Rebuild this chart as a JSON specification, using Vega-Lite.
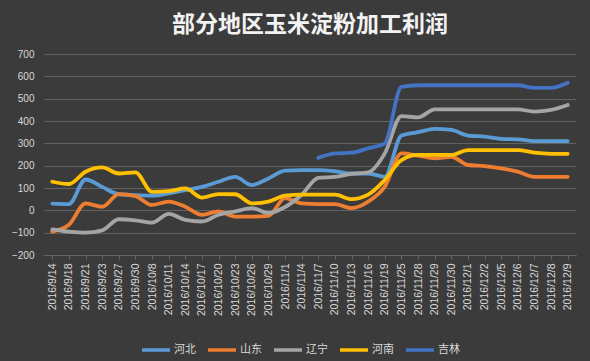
{
  "$schema": "https://vega.github.io/schema/vega-lite/v6.json",
  "autosize": "none",
  "width": 532,
  "height": 201,
  "padding": {"left": 44, "top": 54, "right": 14, "bottom": 106},
  "background": "#3b3b3b",
  "title": {
    "text": "部分地区玉米淀粉加工利润",
    "font": "Noto Sans CJK SC",
    "fontSize": 23,
    "fontWeight": "bold",
    "color": "#f2f2f2",
    "anchor": "middle",
    "offset": 12
  },
  "datasets": {
    "d": [
      {"date":"2016/9/14","s":"河北","v":30},{"date":"2016/9/18","s":"河北","v":28},{"date":"2016/9/21","s":"河北","v":138},{"date":"2016/9/23","s":"河北","v":105},{"date":"2016/9/27","s":"河北","v":72},{"date":"2016/9/30","s":"河北","v":68},{"date":"2016/10/8","s":"河北","v":66},{"date":"2016/10/11","s":"河北","v":76},{"date":"2016/10/14","s":"河北","v":90},{"date":"2016/10/17","s":"河北","v":105},{"date":"2016/10/20","s":"河北","v":128},{"date":"2016/10/23","s":"河北","v":150},{"date":"2016/10/26","s":"河北","v":113},{"date":"2016/10/29","s":"河北","v":143},{"date":"2016/11/1","s":"河北","v":178},{"date":"2016/11/4","s":"河北","v":180},{"date":"2016/11/7","s":"河北","v":180},{"date":"2016/11/10","s":"河北","v":175},{"date":"2016/11/13","s":"河北","v":165},{"date":"2016/11/16","s":"河北","v":165},{"date":"2016/11/19","s":"河北","v":150},{"date":"2016/11/25","s":"河北","v":335},{"date":"2016/11/28","s":"河北","v":350},{"date":"2016/11/29","s":"河北","v":365},{"date":"2016/11/30","s":"河北","v":360},{"date":"2016/12/1","s":"河北","v":335},{"date":"2016/12/2","s":"河北","v":330},{"date":"2016/12/5","s":"河北","v":320},{"date":"2016/12/6","s":"河北","v":318},{"date":"2016/12/7","s":"河北","v":310},{"date":"2016/12/8","s":"河北","v":310},{"date":"2016/12/9","s":"河北","v":310},
      {"date":"2016/9/14","s":"山东","v":-95},{"date":"2016/9/18","s":"山东","v":-65},{"date":"2016/9/21","s":"山东","v":31},{"date":"2016/9/23","s":"山东","v":16},{"date":"2016/9/27","s":"山东","v":73},{"date":"2016/9/30","s":"山东","v":64},{"date":"2016/10/8","s":"山东","v":24},{"date":"2016/10/11","s":"山东","v":39},{"date":"2016/10/14","s":"山东","v":16},{"date":"2016/10/17","s":"山东","v":-20},{"date":"2016/10/20","s":"山东","v":-5},{"date":"2016/10/23","s":"山东","v":-28},{"date":"2016/10/26","s":"山东","v":-28},{"date":"2016/10/29","s":"山东","v":-25},{"date":"2016/11/1","s":"山东","v":55},{"date":"2016/11/4","s":"山东","v":31},{"date":"2016/11/7","s":"山东","v":28},{"date":"2016/11/10","s":"山东","v":28},{"date":"2016/11/13","s":"山东","v":10},{"date":"2016/11/16","s":"山东","v":39},{"date":"2016/11/19","s":"山东","v":106},{"date":"2016/11/25","s":"山东","v":255},{"date":"2016/11/28","s":"山东","v":245},{"date":"2016/11/29","s":"山东","v":233},{"date":"2016/11/30","s":"山东","v":240},{"date":"2016/12/1","s":"山东","v":203},{"date":"2016/12/2","s":"山东","v":198},{"date":"2016/12/5","s":"山东","v":188},{"date":"2016/12/6","s":"山东","v":173},{"date":"2016/12/7","s":"山东","v":150},{"date":"2016/12/8","s":"山东","v":150},{"date":"2016/12/9","s":"山东","v":150},
      {"date":"2016/9/14","s":"辽宁","v":-85},{"date":"2016/9/18","s":"辽宁","v":-95},{"date":"2016/9/21","s":"辽宁","v":-100},{"date":"2016/9/23","s":"辽宁","v":-90},{"date":"2016/9/27","s":"辽宁","v":-40},{"date":"2016/9/30","s":"辽宁","v":-45},{"date":"2016/10/8","s":"辽宁","v":-55},{"date":"2016/10/11","s":"辽宁","v":-16},{"date":"2016/10/14","s":"辽宁","v":-43},{"date":"2016/10/17","s":"辽宁","v":-50},{"date":"2016/10/20","s":"辽宁","v":-20},{"date":"2016/10/23","s":"辽宁","v":-5},{"date":"2016/10/26","s":"辽宁","v":10},{"date":"2016/10/29","s":"辽宁","v":-12},{"date":"2016/11/1","s":"辽宁","v":15},{"date":"2016/11/4","s":"辽宁","v":70},{"date":"2016/11/7","s":"辽宁","v":145},{"date":"2016/11/10","s":"辽宁","v":150},{"date":"2016/11/13","s":"辽宁","v":163},{"date":"2016/11/16","s":"辽宁","v":170},{"date":"2016/11/19","s":"辽宁","v":255},{"date":"2016/11/25","s":"辽宁","v":422},{"date":"2016/11/28","s":"辽宁","v":416},{"date":"2016/11/29","s":"辽宁","v":452},{"date":"2016/11/30","s":"辽宁","v":452},{"date":"2016/12/1","s":"辽宁","v":452},{"date":"2016/12/2","s":"辽宁","v":452},{"date":"2016/12/5","s":"辽宁","v":452},{"date":"2016/12/6","s":"辽宁","v":452},{"date":"2016/12/7","s":"辽宁","v":442},{"date":"2016/12/8","s":"辽宁","v":450},{"date":"2016/12/9","s":"辽宁","v":472},
      {"date":"2016/9/14","s":"河南","v":128},{"date":"2016/9/18","s":"河南","v":118},{"date":"2016/9/21","s":"河南","v":173},{"date":"2016/9/23","s":"河南","v":192},{"date":"2016/9/27","s":"河南","v":165},{"date":"2016/9/30","s":"河南","v":170},{"date":"2016/10/8","s":"河南","v":83},{"date":"2016/10/11","s":"河南","v":86},{"date":"2016/10/14","s":"河南","v":98},{"date":"2016/10/17","s":"河南","v":57},{"date":"2016/10/20","s":"河南","v":73},{"date":"2016/10/23","s":"河南","v":72},{"date":"2016/10/26","s":"河南","v":31},{"date":"2016/10/29","s":"河南","v":39},{"date":"2016/11/1","s":"河南","v":66},{"date":"2016/11/4","s":"河南","v":70},{"date":"2016/11/7","s":"河南","v":70},{"date":"2016/11/10","s":"河南","v":70},{"date":"2016/11/13","s":"河南","v":50},{"date":"2016/11/16","s":"河南","v":70},{"date":"2016/11/19","s":"河南","v":136},{"date":"2016/11/25","s":"河南","v":225},{"date":"2016/11/28","s":"河南","v":248},{"date":"2016/11/29","s":"河南","v":248},{"date":"2016/11/30","s":"河南","v":248},{"date":"2016/12/1","s":"河南","v":270},{"date":"2016/12/2","s":"河南","v":270},{"date":"2016/12/5","s":"河南","v":270},{"date":"2016/12/6","s":"河南","v":270},{"date":"2016/12/7","s":"河南","v":258},{"date":"2016/12/8","s":"河南","v":253},{"date":"2016/12/9","s":"河南","v":253},
      {"date":"2016/11/7","s":"吉林","v":235},{"date":"2016/11/10","s":"吉林","v":255},{"date":"2016/11/13","s":"吉林","v":258},{"date":"2016/11/16","s":"吉林","v":278},{"date":"2016/11/19","s":"吉林","v":300},{"date":"2016/11/25","s":"吉林","v":553},{"date":"2016/11/28","s":"吉林","v":560},{"date":"2016/11/29","s":"吉林","v":560},{"date":"2016/11/30","s":"吉林","v":560},{"date":"2016/12/1","s":"吉林","v":560},{"date":"2016/12/2","s":"吉林","v":560},{"date":"2016/12/5","s":"吉林","v":560},{"date":"2016/12/6","s":"吉林","v":560},{"date":"2016/12/7","s":"吉林","v":548},{"date":"2016/12/8","s":"吉林","v":548},{"date":"2016/12/9","s":"吉林","v":571}
    ]
  },
  "data": {"name": "d"},
  "mark": {"type": "line", "interpolate": "monotone", "strokeWidth": 3.8, "strokeCap": "round"},
  "encoding": {
    "x": {
      "field": "date", "type": "ordinal", "sort": null,
      "scale": {"type": "point", "padding": 0.5},
      "axis": {
        "title": null, "labelAngle": -90, "labelColor": "#d9d9d9", "labelFont": "Liberation Sans",
        "labelFontSize": 10.5, "labelPadding": 4, "domain": true, "domainColor": "#666666",
        "ticks": true, "tickColor": "#666666", "tickSize": 4, "grid": false, "bandPosition": 0
      }
    },
    "y": {
      "field": "v", "type": "quantitative",
      "scale": {"domain": [-200, 700], "nice": false},
      "axis": {
        "title": null, "values": [-200,-100,0,100,200,300,400,500,600,700],
        "labelColor": "#d9d9d9", "labelFont": "Liberation Sans", "labelFontSize": 10,
        "domain": false, "ticks": false, "labelPadding": 10,
        "grid": true, "gridColor": "#626262", "gridWidth": 1
      }
    },
    "color": {
      "field": "s", "type": "nominal", "sort": ["河北","山东","辽宁","河南","吉林"],
      "scale": {"domain": ["河北","山东","辽宁","河南","吉林"], "range": ["#5b9bd5","#ed7d31","#a5a5a5","#ffc000","#4472c4"]},
      "legend": {
        "title": null, "orient": "none", "direction": "horizontal", "legendX": 96, "legendY": 280,
        "symbolType": "stroke", "symbolStrokeWidth": 3.5, "symbolSize": 784,
        "labelColor": "#d9d9d9", "labelFont": "Noto Sans CJK SC", "labelFontSize": 11,
        "columnPadding": 5, "labelOffset": 2
      }
    }
  },
  "config": {"view": {"stroke": null}}
}
